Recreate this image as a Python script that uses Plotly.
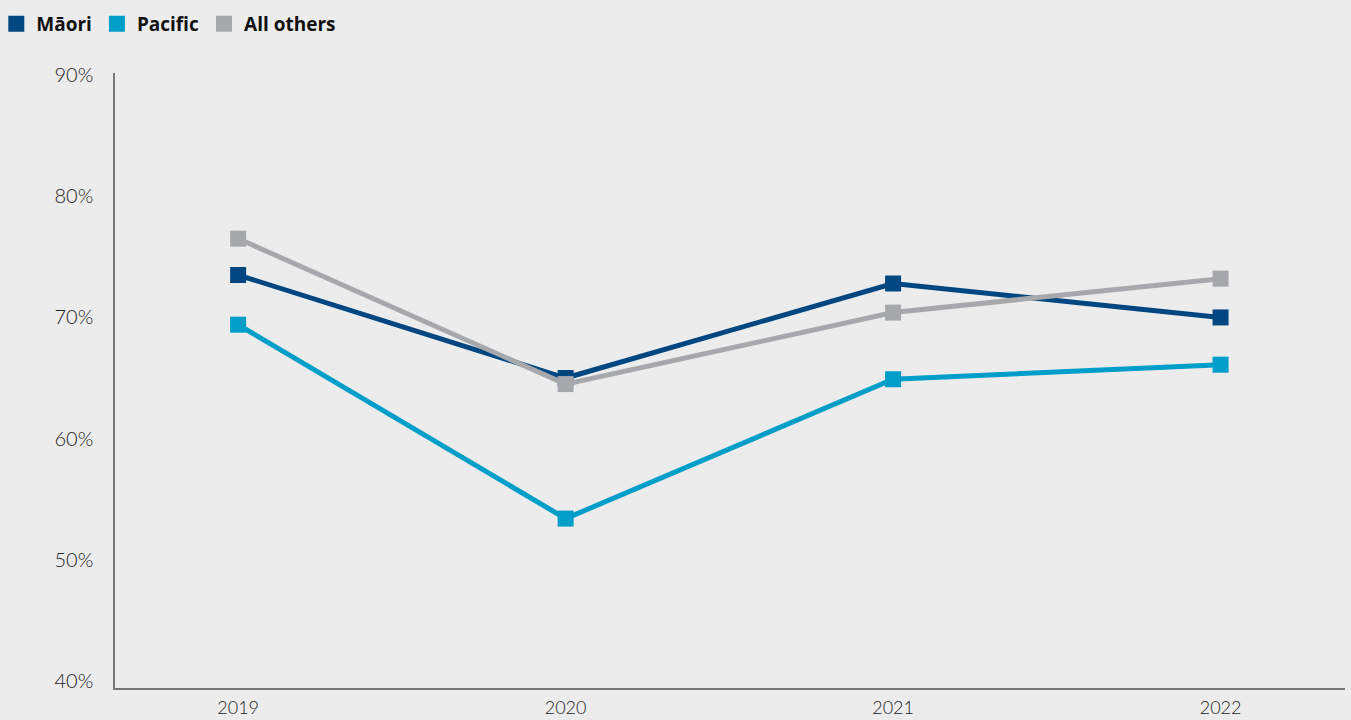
import plotly.graph_objects as go

years = ['2019', '2020', '2021', '2022']
maori = [73.5, 65.0, 72.8, 70.0]
pacific = [69.4, 53.4, 64.9, 66.1]
all_others = [76.5, 64.5, 70.4, 73.2]
y_ticks = [40, 50, 60, 70, 80, 90]
y_tick_labels = ['40%', '50%', '60%', '70%', '80%', '90%']

series = [
    ('Māori', maori, '#004782'),
    ('Pacific', pacific, '#009ec9'),
    ('All others', all_others, '#a7a8ac'),
]

bg = '#ececec'
tickFont = dict(family='Lato, Open Sans, sans-serif', size=20, color='#222222', weight=300)
xTickFont = dict(family='Lato, Open Sans, sans-serif', size=18, color='#222222', weight=300)

fig = go.Figure()
xs = list(range(len(years)))

for name, vals, color in series:
    fig.add_trace(go.Scatter(
        x=xs, y=vals, name=name, mode='lines+markers',
        line=dict(color=color, width=5),
        marker=dict(symbol='square', size=16, color=color),
        showlegend=False,
    ))

# legend-only square swatches
for name, vals, color in series:
    fig.add_trace(go.Scatter(
        x=[None], y=[None], name=name, mode='markers',
        marker=dict(symbol='square', size=18, color=color),
    ))

fig.update_layout(
    width=1351, height=720,
    paper_bgcolor=bg, plot_bgcolor=bg,
    margin=dict(l=115, r=6, t=73, b=32, autoexpand=False),
    legend=dict(
        orientation='h', x=-0.0965, y=1.08, xanchor='left', yanchor='middle',
        font=dict(family='Open Sans, sans-serif', size=19, color='#111111', weight='bold'),
        itemwidth=30, tracegroupgap=0, bgcolor='rgba(0,0,0,0)',
    ),
    xaxis=dict(
        range=[-0.376, 3.38], tickmode='array', tickvals=xs, ticktext=years,
        showgrid=False, zeroline=False, showline=True, linecolor='#777777', linewidth=1.5,
        ticks='', tickfont=xTickFont, ticklabelstandoff=3,
    ),
    yaxis=dict(
        range=[39.42, 90.17], tickmode='array', tickvals=y_ticks, ticktext=y_tick_labels,
        showgrid=False, zeroline=False, showline=True, linecolor='#777777', linewidth=1.5,
        ticks='', tickfont=tickFont, ticklabelstandoff=16,
    ),
)

fig.write_html("out.html", config={'displayModeBar': False},
               post_script="document.body.style.margin='0';")
